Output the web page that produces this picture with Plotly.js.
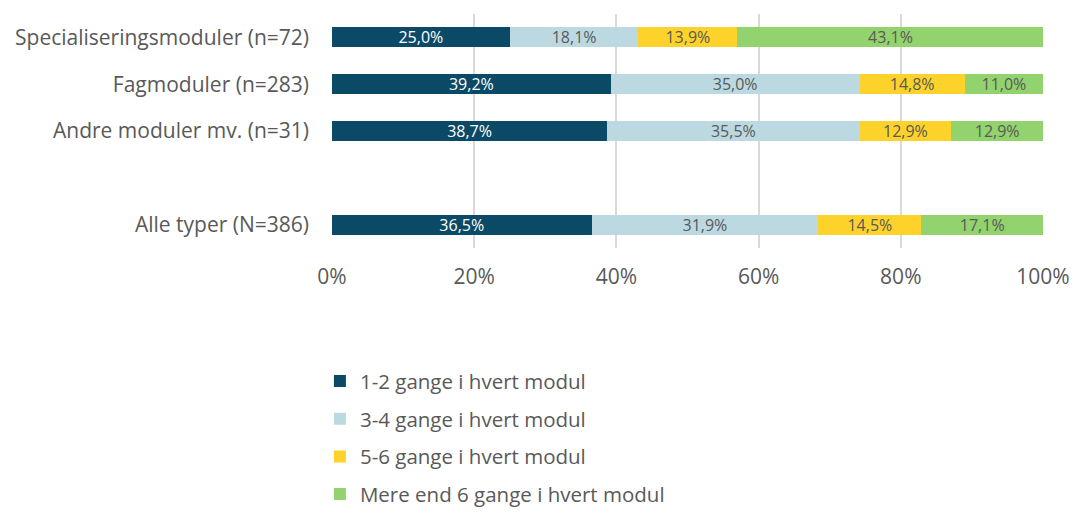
<!DOCTYPE html>
<html>
<head>
<meta charset="utf-8">
<script src="https://cdn.plot.ly/plotly-3.0.1.min.js"></script>
<style>html,body{margin:0;padding:0;background:#fff;}</style>
</head>
<body>
<div id="chart" style="width:1083px;height:513px;"></div>
<script>
const categories = ["Specialiseringsmoduler (n=72)", "Fagmoduler (n=283)", "Andre moduler mv. (n=31)", " ", "Alle typer (N=386)"];
const seriesNames = ["1-2 gange i hvert modul", "3-4 gange i hvert modul", "5-6 gange i hvert modul", "Mere end 6 gange i hvert modul"];
const v12 = [25.0, 39.2, 38.7, null, 36.5];
const v34 = [18.1, 35.0, 35.5, null, 31.9];
const v56 = [13.9, 14.8, 12.9, null, 14.5];
const v6plus = [43.1, 11.0, 12.9, null, 17.1];
const colors = ["#0b4a66", "#bcd9e1", "#fdd22a", "#92d36e"];
const textColors = ["#ffffff", "#595959", "#595959", "#595959"];
const tickVals = [0, 20, 40, 60, 80, 100];

const FONT = "'Open Sans', sans-serif";
const allVals = [v12, v34, v56, v6plus];
const traces = allVals.map((vals, i) => ({
  type: "bar",
  orientation: "h",
  name: seriesNames[i],
  y: categories,
  x: vals,
  marker: {color: colors[i], line: {width: 0}},
  texttemplate: "%{x:.1f}%",
  textposition: "inside",
  insidetextanchor: "middle",
  textangle: 0,
  constraintext: "none",
  insidetextfont: {family: FONT, size: 16, color: textColors[i]},
  hoverinfo: "skip",
  legendgroup: "g" + i
}));

const layout = {
  width: 1083, height: 513,
  margin: {l: 332, r: 40, t: 14, b: 265, autoexpand: false},
  barmode: "stack",
  bargap: 0.57,
  separators: ",.",
  paper_bgcolor: "#fff",
  plot_bgcolor: "#fff",
  font: {family: FONT, color: "#595959", size: 20},
  xaxis: {
    range: [0, 100],
    tickvals: tickVals,
    ticktext: tickVals.map(v => v + "%"),
    showgrid: true,
    gridcolor: "#d9d9d9",
    gridwidth: 2,
    zeroline: false,
    showline: false,
    ticks: "",
    ticklabelstandoff: 14,
    tickfont: {family: FONT, size: 21, color: "#595959"},
    fixedrange: true
  },
  yaxis: {
    type: "category",
    categoryorder: "array",
    categoryarray: categories,
    autorange: "reversed",
    showgrid: false,
    zeroline: false,
    showline: false,
    ticks: "",
    ticklabelstandoff: 22,
    tickfont: {family: FONT, size: 21, color: "#595959"},
    fixedrange: true
  },
  showlegend: true,
  legend: {
    orientation: "v",
    x: -0.017, xanchor: "left",
    y: -0.484, yanchor: "top",
    traceorder: "grouped",
    tracegroupgap: 8,
    font: {family: FONT, size: 20.5, color: "#595959"},
    itemwidth: 30,
    bgcolor: "rgba(0,0,0,0)"
  }
};

Plotly.newPlot("chart", traces, layout, {displayModeBar: false, staticPlot: true});
</script>
</body>
</html>
